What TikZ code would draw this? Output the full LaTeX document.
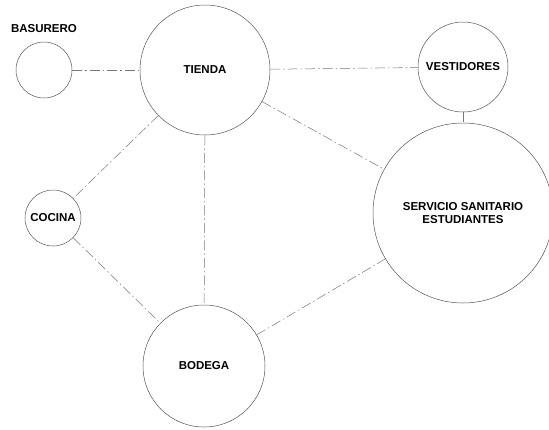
\documentclass[tikz,border=0pt]{standalone}
\usepackage{fontspec}
\setmainfont{Liberation Sans}
\usetikzlibrary{positioning}
\definecolor{LINEAgray}{HTML}{555555}

\begin{document}
\begin{tikzpicture}[x=1pt, y=-1pt,
   espacio/.style={circle, draw=LINEAgray, line width=0.5pt, inner sep=0pt,
      font=\fontsize{11.5}{12.5}\selectfont\bfseries, align=center},
   enlace/.style={draw=LINEAgray!80, line width=0.5pt,
      dash pattern=on 10pt off 3pt on 1.5pt off 3pt}]
            \useasboundingbox (0,0) rectangle (549,429);
            % Espacios
            \node[espacio, minimum size=56pt]  (basurero)   at (44,70)   {};
            \node[espacio, minimum size=130pt] (tienda)     at (205,70)  {TIENDA};
            \node[espacio, minimum size=90pt]  (vestidores) at (463,67)  {VESTIDORES};
            \node[espacio, minimum size=180pt] (servicio)   at (463,213) {SERVICIO SANITARIO\\ESTUDIANTES};
            \node[espacio, minimum size=56pt]  (cocina)     at (53,218)  {COCINA};
            \node[espacio, minimum size=122pt] (bodega)     at (204,366) {BODEGA};
            % Etiqueta
            \node[font=\fontsize{11.5}{12.5}\selectfont\bfseries, above=6pt of basurero] (rotulo) {BASURERO};
            % Relaciones
            \draw[enlace] (basurero) -- (tienda);
            \draw[enlace] (tienda) -- (vestidores);
            \draw[enlace] (vestidores) -- (servicio);
            \draw[enlace] (tienda) -- (servicio);
            \draw[enlace] (tienda) -- (cocina);
            \draw[enlace] (tienda) -- (bodega);
            \draw[enlace] (cocina) -- (bodega);
            \draw[enlace] (bodega) -- (servicio);
         \end{tikzpicture}
\end{document}
